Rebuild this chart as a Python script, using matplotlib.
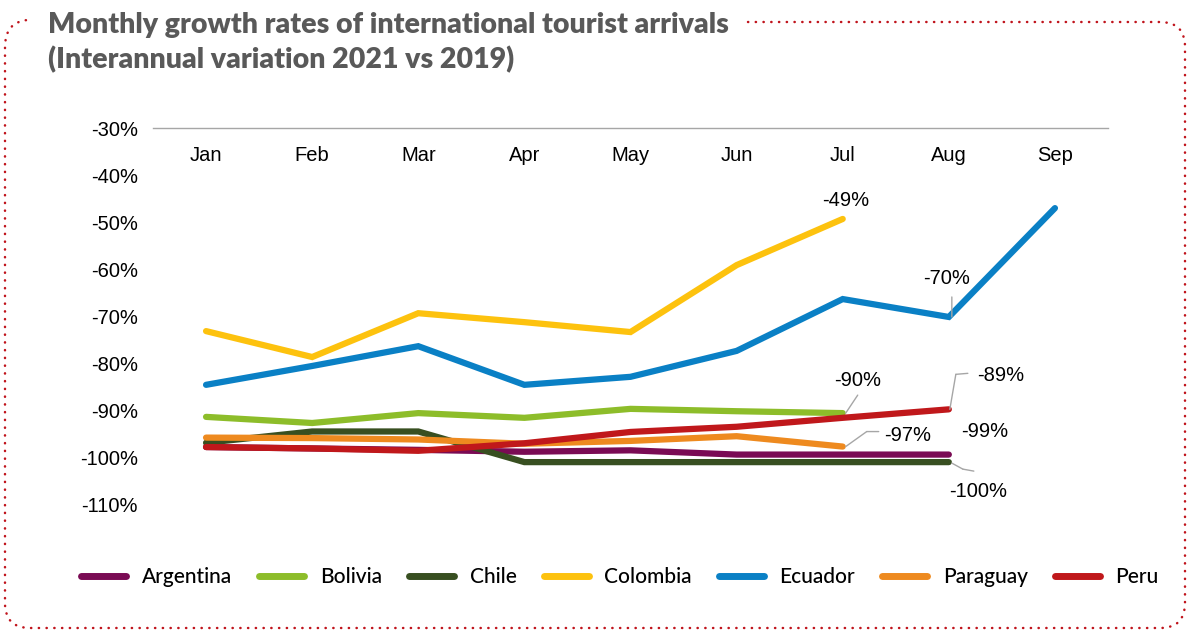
import matplotlib
matplotlib.use("Agg")
import matplotlib.pyplot as plt
from matplotlib.path import Path
from matplotlib.patches import PathPatch
from matplotlib.transforms import offset_copy, blended_transform_factory

months = ['Jan', 'Feb', 'Mar', 'Apr', 'May', 'Jun', 'Jul', 'Aug', 'Sep']
countries = ['Argentina', 'Bolivia', 'Chile', 'Colombia', 'Ecuador', 'Paraguay', 'Peru']
argentina = [-97.7, -98.0, -98.3, -98.7, -98.4, -99.3, -99.3, -99.3]
bolivia = [-91.3, -92.6, -90.5, -91.5, -89.6, -90.1, -90.5]
chile = [-96.8, -94.4, -94.4, -100.9, -100.9, -100.9, -100.9, -100.9]
colombia = [-73.1, -78.6, -69.3, -71.2, -73.3, -59.1, -49.3]
ecuador = [-84.5, -80.5, -76.3, -84.5, -82.8, -77.3, -66.3, -70.1, -47.0]
paraguay = [-95.7, -95.8, -96.1, -97.0, -96.4, -95.4, -97.6]
peru = [-97.7, -98.0, -98.5, -96.9, -94.5, -93.4, -91.5, -89.7]
series = [argentina, bolivia, chile, colombia, ecuador, paraguay, peru]
colors = ['#7a0b54', '#8dbd2a', '#384f21', '#fdc20e', '#0a80c5', '#ee8a1f', '#c0181b']
yticks = [-30, -40, -50, -60, -70, -80, -90, -100, -110]

W, H = 1189, 630
fig = plt.figure(figsize=(W / 100, H / 100), dpi=100)
ax = fig.add_axes([153 / W, (H - 505) / H, (1108 - 153) / W, (505 - 128) / H])

for vals, c, name in zip(series, colors, countries):
    ax.plot(range(len(vals)), vals, color=c, lw=4.5, solid_capstyle='round',
            solid_joinstyle='miter', label=name)

ax.set_xlim(-0.5, len(months) - 0.5)
ax.set_ylim(-110, -30)
ax.set_yticks(yticks)
ax.set_yticklabels([f'{v}%' for v in yticks], fontsize=14.5, family='Liberation Sans')
ax.tick_params(axis='y', length=0, pad=11)
ax.set_xticks([])
for s in ['left', 'right', 'bottom']:
    ax.spines[s].set_visible(False)
ax.spines['top'].set_color('#a6a6a6')
ax.spines['top'].set_linewidth(1.0)

tr = blended_transform_factory(ax.transData, ax.transAxes)
for i, m in enumerate(months):
    ax.text(i, 1 - 27 / 377, m, transform=tr, ha='center', va='center',
            fontsize=14.5, family='Liberation Sans')

# annotations: (series, index, label, text offset px, leader vertices offsets px)
annots = [
    (colombia, 6, '-49%', (3, 18), []),
    (ecuador, 7, '-70%', (-2, 38), [(3, 0), (3, 20)]),
    (bolivia, 6, '-90%', (15, 33), [(3, 0), (15, 18)]),
    (peru, 7, '-89%', (52, 34), [(1, 0), (7, 35), (19, 36)]),
    (paraguay, 6, '-97%', (65, 11), [(3, 0), (24, 15), (36, 15)]),
    (argentina, 7, '-99%', (36, 23), []),
    (chile, 7, '-100%', (29, -29), [(3, -1), (14, -7), (25, -9)]),
]
for vals, idx, lab, toff, leader in annots:
    x, y = idx, vals[idx]
    t = offset_copy(ax.transData, fig=fig, x=toff[0], y=toff[1], units='dots')
    ax.text(x, y, lab, transform=t, ha='center', va='center', fontsize=14.5,
            family='Liberation Sans', color='black')
    for (a, b) in zip(leader[:-1], leader[1:]):
        ax.annotate('', xy=(x, y), xycoords=offset_copy(ax.transData, fig=fig, x=b[0], y=b[1], units='dots'),
                    xytext=(x, y), textcoords=offset_copy(ax.transData, fig=fig, x=a[0], y=a[1], units='dots'),
                    arrowprops=dict(arrowstyle='-', color='#a6a6a6', lw=1.0, shrinkA=0, shrinkB=0))

# legend
leg = fig.legend(loc='center', bbox_to_anchor=(620 / W, 1 - 577 / H), ncol=7, frameon=False,
                 prop={'family': 'Lato', 'size': 15, 'weight': 'medium'}, handlelength=2.16,
                 columnspacing=1.3, handletextpad=0.75)
for h in leg.legend_handles:
    h.set_linewidth(5)
    h.set_solid_capstyle('round')

# title
fig.text(48 / W, 1 - 25 / H, 'Monthly growth rates of international tourist arrivals',
         fontsize=20.5, fontweight='heavy', family='Lato', color='#595959', va='center', ha='left')
fig.text(48 / W, 1 - 60 / H, '(Interannual variation 2021 vs 2019)',
         fontsize=20.5, fontweight='heavy', family='Lato', color='#595959', va='center', ha='left')

# dotted rounded border with gap for title
r = 25
pts = [(748, 22), (1185 - r, 22), (1185, 22), (1185, 22 + r), (1185, 628 - r), (1185, 628),
       (1185 - r, 628), (5 + r, 628), (5, 628), (5, 628 - r), (5, 22 + r), (5, 22), (5 + r * 0.9, 20)]
codes = [Path.MOVETO, Path.LINETO, Path.CURVE3, Path.CURVE3, Path.LINETO, Path.CURVE3, Path.CURVE3,
         Path.LINETO, Path.CURVE3, Path.CURVE3, Path.LINETO, Path.CURVE3, Path.CURVE3]
pts_f = [(x / W, 1 - y / H) for x, y in pts]
patch = PathPatch(Path(pts_f, codes), transform=fig.transFigure, fill=False, edgecolor='#c0141c',
                  lw=1.8, linestyle=(0, (0.1, 3.0)), capstyle='round')
fig.patches.append(patch)

fig.savefig('out.png', dpi=100)
